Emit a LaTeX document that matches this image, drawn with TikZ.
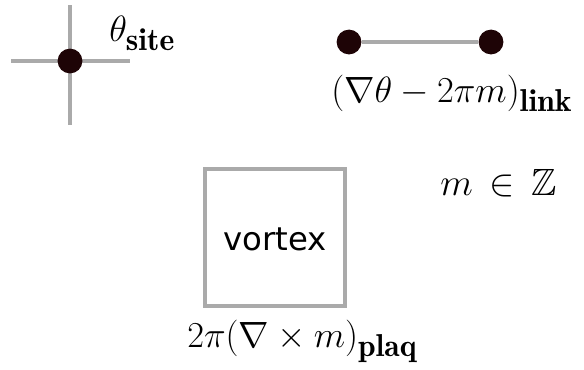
\RequirePackage{fix-cm}
\documentclass[tikz,border=0pt]{standalone}
\usepackage{amssymb}
\usepackage{fontspec}
\newfontfamily\vortexfont{DejaVu Sans}
\usetikzlibrary{positioning}
\definecolor{bondgray}{RGB}{170,170,170}
\definecolor{sitecol}{RGB}{30,4,6}
\DeclareMathSizes{26}{26}{22.5}{16}
\DeclareMathSizes{27}{27}{22.5}{16}

\begin{document}
\begin{tikzpicture}[x=0.025cm,y=-0.025cm,
  site/.style={circle,fill=sitecol,inner sep=0pt,minimum size=0.62cm},
  bond/.style={bondgray,line width=2.9pt},
  lab/.style={anchor=base west,inner sep=0pt,font=\fontsize{26}{31}\selectfont}]
  \useasboundingbox (0,0) rectangle (584,369);
  % --- site: theta on a lattice site ---
  \coordinate (cl) at (11,61);
  \coordinate (cr) at (130,61);
  \coordinate (ct) at (70,5);
  \coordinate (cb) at (70,125);
  \draw[bond] (cl)--(cr);
  \draw[bond] (ct)--(cb);
  \node[site] (s0) at (70,61) {};
  \node[lab] (slab) at (109,41) {$\theta_{\mathbf{site}}$};
  % --- link between two sites ---
  \node[site] (l1) at (349,42) {};
  \node[site] (l2) at (491,42) {};
  \draw[bond] (l1)--(l2);
  \node[lab] (llab) at (331,102) {$(\nabla\theta-2\pi m)_{\mathbf{link}}$};
  % --- integer field ---
  \node[lab,font=\fontsize{27}{32}\selectfont] (zlab) at (440,195) {$m\mathrel{\,\in\,}\mathbb{Z}$};
  % --- plaquette with vortex ---
  \draw[bond,line width=3.4pt] (205,169) rectangle (345,306);
  \node[lab,font=\vortexfont\fontsize{23}{28}\selectfont] (vort) at (223,250) {vortex};
  \node[lab] (plab) at (187,347) {$2\pi(\nabla\times m)_{\mathbf{plaq}}$};
\end{tikzpicture}
\end{document}
